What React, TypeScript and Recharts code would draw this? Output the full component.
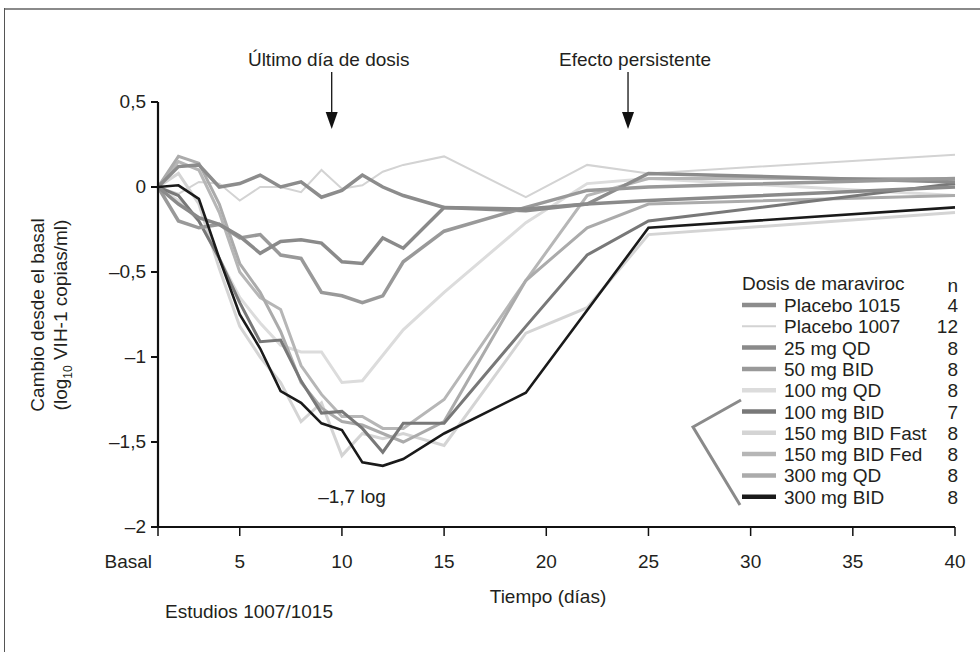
import React from 'react';
import { LineChart, Line, XAxis, YAxis, ReferenceLine } from 'recharts';

const days = [1, 2, 3, 4, 5, 6, 7, 8, 9, 10, 11, 12, 13, 15, 19, 22, 25, 40];
const xTicks = [1, 5, 10, 15, 20, 25, 30, 35, 40];
const yTicks = [0.5, 0, -0.5, -1, -1.5, -2];

const placebo1015 = [0, 0.12, 0.13, 0.0, 0.02, 0.07, 0.0, 0.03, -0.06, -0.02, 0.07, 0.0, -0.05, -0.12, -0.14, -0.1, 0.08, 0.03];
const placebo1007 = [0, -0.04, 0.03, 0.02, -0.08, 0.0, 0.0, -0.03, 0.1, -0.01, 0.01, 0.09, 0.13, 0.18, -0.06, 0.13, 0.08, 0.19];
const mg25QD = [0, -0.1, -0.18, -0.22, -0.29, -0.39, -0.32, -0.31, -0.33, -0.44, -0.45, -0.3, -0.36, -0.12, -0.13, -0.1, -0.08, 0.0];
const mg50BID = [0, -0.2, -0.24, -0.22, -0.3, -0.28, -0.4, -0.42, -0.62, -0.64, -0.68, -0.64, -0.44, -0.26, -0.12, -0.02, 0.0, 0.05];
const mg100QD = [0, -0.08, -0.2, -0.42, -0.65, -0.8, -0.93, -0.97, -0.97, -1.15, -1.14, -0.99, -0.84, -0.62, -0.21, 0.02, 0.05, -0.05];
const mg100BID = [0, -0.05, -0.2, -0.42, -0.68, -0.91, -0.9, -1.14, -1.33, -1.32, -1.42, -1.56, -1.39, -1.39, -0.82, -0.4, -0.2, 0.02];
const mg150Fast = [0, 0.08, -0.1, -0.48, -0.82, -1.0, -1.15, -1.38, -1.27, -1.58, -1.45, -1.48, -1.45, -1.52, -0.86, -0.71, -0.28, -0.15];
const mg150Fed = [0, 0.15, 0.1, -0.15, -0.5, -0.65, -0.72, -1.05, -1.22, -1.35, -1.35, -1.42, -1.42, -1.25, -0.55, -0.05, 0.05, 0.05];
const mg300QD = [0, 0.18, 0.14, -0.1, -0.45, -0.62, -0.85, -1.15, -1.3, -1.38, -1.4, -1.45, -1.5, -1.38, -0.55, -0.24, -0.1, -0.05];
const mg300BID = [0, 0.01, -0.07, -0.42, -0.75, -0.95, -1.2, -1.27, -1.39, -1.43, -1.62, -1.64, -1.6, -1.45, -1.21, null, -0.24, -0.12];

// legend order = order in the figure
const series = [
  { key: 'p1015', label: 'Placebo 1015', n: 4, values: placebo1015, color: '#8c8c8c', width: 3.5 },
  { key: 'p1007', label: 'Placebo 1007', n: 12, values: placebo1007, color: '#d3d3d3', width: 2 },
  { key: 'q25', label: '25 mg QD', n: 8, values: mg25QD, color: '#8a8a8a', width: 3.5 },
  { key: 'b50', label: '50 mg BID', n: 8, values: mg50BID, color: '#999999', width: 3.5 },
  { key: 'q100', label: '100 mg QD', n: 8, values: mg100QD, color: '#dcdcdc', width: 3 },
  { key: 'b100', label: '100 mg BID', n: 7, values: mg100BID, color: '#787878', width: 3 },
  { key: 'fast150', label: '150 mg BID Fast', n: 8, values: mg150Fast, color: '#d4d4d4', width: 3 },
  { key: 'fed150', label: '150 mg BID Fed', n: 8, values: mg150Fed, color: '#b6b6b6', width: 3 },
  { key: 'q300', label: '300 mg QD', n: 8, values: mg300QD, color: '#ababab', width: 3 },
  { key: 'b300', label: '300 mg BID', n: 8, values: mg300BID, color: '#1a1a1a', width: 2.6 },
];
const drawOrder = ['p1007', 'q100', 'fast150', 'fed150', 'q300', 'b100', 'p1015', 'b50', 'q25', 'b300'];

const data = days.map((day, i) => {
  const row: Record<string, number | null> = { day };
  series.forEach(s => { row[s.key] = s.values[i]; });
  return row;
});

const FONT = '"Liberation Sans", Arial, sans-serif';
const TXT = '#231f20';

const fmtY = (v: number) => String(v).replace('.', ',').replace('-', '–');

const XTick = (props: any) => {
  const { x, y, payload } = props;
  const basal = payload.value === 1;
  return (
    <text x={basal ? x - 6 : x} y={y + 30} textAnchor={basal ? 'end' : 'middle'} fontSize={19} fill={TXT} fontFamily={FONT}>
      {basal ? 'Basal' : payload.value}
    </text>
  );
};

const YTick = (props: any) => {
  const { x, y, payload } = props;
  return (
    <text x={x - 3} y={y + 6} textAnchor="end" fontSize={19} fill={TXT} fontFamily={FONT}>
      {fmtY(payload.value)}
    </text>
  );
};

const arrowShape = (label: string, dx: number) => (p: any) => {
  const x = p.x1;
  const top = Math.min(p.y1, p.y2);
  return (
    <g>
      <text x={x + dx} y={top - 36} textAnchor="middle" fontSize={19} fill={TXT} fontFamily={FONT}>{label}</text>
      <line x1={x} y1={top - 30} x2={x} y2={top + 12} stroke="#111" strokeWidth={1.3} />
      <path d={`M${x - 6},${top + 10} L${x + 6},${top + 10} L${x},${top + 27} Z`} fill="#111" />
    </g>
  );
};

const legendX = 742;
const legendTitleY = 283;
const rowY0 = 305;
const rowStep = 21.3;

export default function App() {
  return (
    <div style={{ position: 'absolute', left: 0, top: 0, width: 980, height: 652, background: '#fff', fontFamily: FONT }}>
      <LineChart width={980} height={652} data={data} margin={{ top: 102, right: 25, bottom: 95, left: 98 }}>
        <XAxis
          dataKey="day"
          type="number"
          domain={[1, 40]}
          ticks={xTicks}
          interval={0}
          height={30}
          tick={<XTick />}
          tickSize={9}
          axisLine={{ stroke: '#111', strokeWidth: 2.2 }}
          tickLine={{ stroke: '#111', strokeWidth: 1.5 }}
        />
        <YAxis
          type="number"
          domain={[-2, 0.5]}
          ticks={yTicks}
          interval={0}
          width={60}
          tick={<YTick />}
          tickSize={7}
          axisLine={{ stroke: '#111', strokeWidth: 2.2 }}
          tickLine={{ stroke: '#111', strokeWidth: 2 }}
        />
        <ReferenceLine x={9.5} stroke="none" shape={arrowShape('Último día de dosis', -3)} />
        <ReferenceLine x={24} stroke="none" shape={arrowShape('Efecto persistente', 7)} />
        {drawOrder.map(k => {
          const s = series.find(t => t.key === k)!;
          return (
            <Line
              key={k}
              type="linear"
              dataKey={k}
              stroke={s.color}
              strokeWidth={s.width}
              dot={false}
              connectNulls
              isAnimationActive={false}
            />
          );
        })}
      </LineChart>
      <svg width={980} height={652} style={{ position: 'absolute', left: 0, top: 0, pointerEvents: 'none' }}>
        <line x1={4} y1={9} x2={980} y2={9} stroke="#8a8a8a" strokeWidth={2} />
        <line x1={4.5} y1={8} x2={4.5} y2={652} stroke="#555" strokeWidth={1} />

        <g fontFamily={FONT} fontSize={19} fill={TXT}>
          <text x={38} y={315} textAnchor="middle" transform="rotate(-90 38 315)" dy={6}>Cambio desde el basal</text>
          <text x={61} y={315} textAnchor="middle" transform="rotate(-90 61 315)" dy={6}>
            (log<tspan fontSize={12} dy={5}>10</tspan><tspan dy={-5}> VIH-1 copias/ml)</tspan>
          </text>
          <text x={548} y={603} textAnchor="middle">Tiempo (días)</text>
          <text x={165} y={618}>Estudios 1007/1015</text>
          <text x={352} y={503} textAnchor="middle">–1,7 log</text>

          <text x={legendX} y={legendTitleY + 7}>Dosis de maraviroc</text>
          <text x={958} y={legendTitleY + 9} textAnchor="end">n</text>
          {series.map((s, i) => {
            const y = rowY0 + i * rowStep;
            return (
              <g key={s.key}>
                <line x1={legendX} y1={y} x2={legendX + 34} y2={y} stroke={s.color} strokeWidth={s.key === 'p1007' ? 2 : 4.5} />
                <text x={legendX + 42} y={y + 7}>{s.label}</text>
                <text x={958} y={y + 7} textAnchor="end">{s.n}</text>
              </g>
            );
          })}
        </g>
        <polyline
          points={`741,400 693,427 740,505`}
          fill="none"
          stroke="#8a8a8a"
          strokeWidth={3}
        />
      </svg>
    </div>
  );
}
